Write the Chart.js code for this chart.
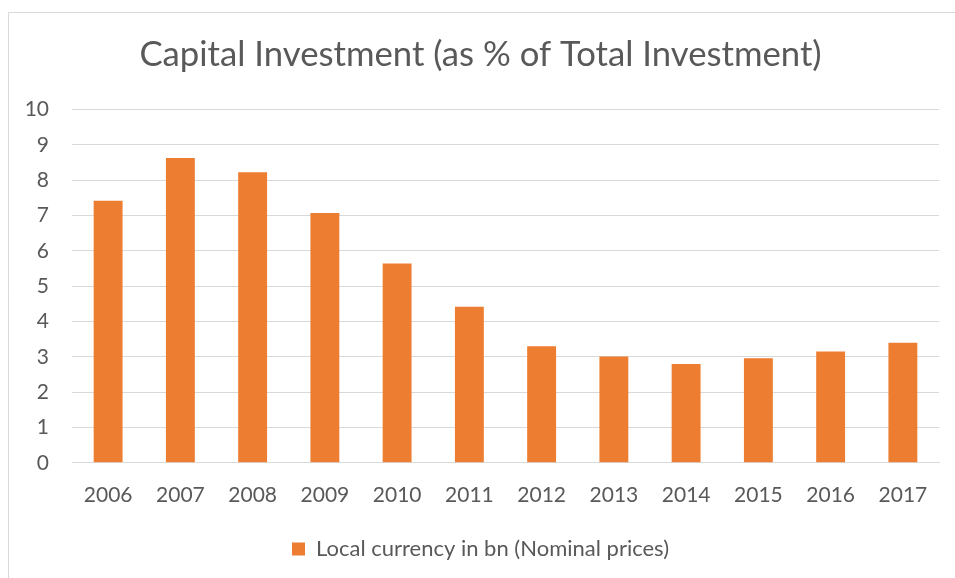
<!DOCTYPE html>
<html lang="en">
<head>
  <meta charset="UTF-8" />
  <title>Capital Investment (as % of Total Investment)</title>
  <style>
    * { margin: 0; padding: 0; box-sizing: border-box; }
    html, body { width: 955px; height: 578px; background: #fff; overflow: hidden; }
    #wrap { position: relative; width: 955px; height: 578px; }
  </style>
</head>
<body>
  <div id="wrap"><canvas id="capChart" width="955" height="578"></canvas></div>

  <script src="https://cdn.jsdelivr.net/npm/chart.js"></script>
  <script>
    const years = ['2006', '2007', '2008', '2009', '2010', '2011', '2012', '2013', '2014', '2015', '2016', '2017'];
    const capitalShare = [7.42, 8.63, 8.23, 7.07, 5.64, 4.42, 3.30, 3.01, 2.80, 2.96, 3.15, 3.40];
    const seriesLabel = 'Local currency in bn (Nominal prices)';
    const chartTitle = 'Capital Investment (as % of Total Investment)';

    const textColor = '#595959';
    const gridColor = '#d9d9d9';
    const barColor = '#ed7d31';
    const fontFamily = 'Lato, "Open Sans", sans-serif';

    // thin grey frame round the chart, like the Excel chart area
    const framePlugin = {
      id: 'frame',
      beforeDraw(chart) {
        const c = chart.ctx;
        c.save();
        c.strokeStyle = gridColor;
        c.lineWidth = 1;
        c.beginPath();
        c.moveTo(8.5, 600);
        c.lineTo(8.5, 12.5);
        c.lineTo(960, 12.5);
        c.stroke();
        c.restore();
      }
    };

    new Chart(document.getElementById('capChart'), {
      type: 'bar',
      data: {
        labels: years,
        datasets: [{
          label: seriesLabel,
          data: capitalShare,
          backgroundColor: barColor,
          borderWidth: 0,
          barPercentage: 0.4,
          categoryPercentage: 1
        }]
      },
      options: {
        responsive: false,
        animation: false,
        // a bit more left padding so title/legend sit right of centre like Excel; y axis width fixed below
        layout: { padding: { left: 22, right: 16, top: 20, bottom: 8 } },
        plugins: {
          title: {
            display: true,
            text: chartTitle,
            color: textColor,
            font: { family: fontFamily, size: 34.7, weight: 'normal' },
            padding: { top: 14, bottom: 34 }
          },
          legend: {
            position: 'bottom',
            labels: {
              color: textColor,
              font: { family: fontFamily, size: 22 },
              boxWidth: 13,
              boxHeight: 13,
              padding: 18
            }
          },
          tooltip: { enabled: false }
        },
        scales: {
          x: {
            grid: { display: false },
            border: { color: gridColor, width: 1 },
            ticks: { color: textColor, font: { family: fontFamily, size: 21 }, padding: 12 }
          },
          y: {
            min: 0,
            max: 10,
            afterFit(scale) { scale.width = 50; },
            grid: { color: gridColor, lineWidth: 1, drawTicks: false },
            border: { display: false },
            ticks: { stepSize: 1, color: textColor, font: { family: fontFamily, size: 21 }, padding: 23 }
          }
        }
      },
      plugins: [framePlugin]
    });
  </script>
</body>
</html>
